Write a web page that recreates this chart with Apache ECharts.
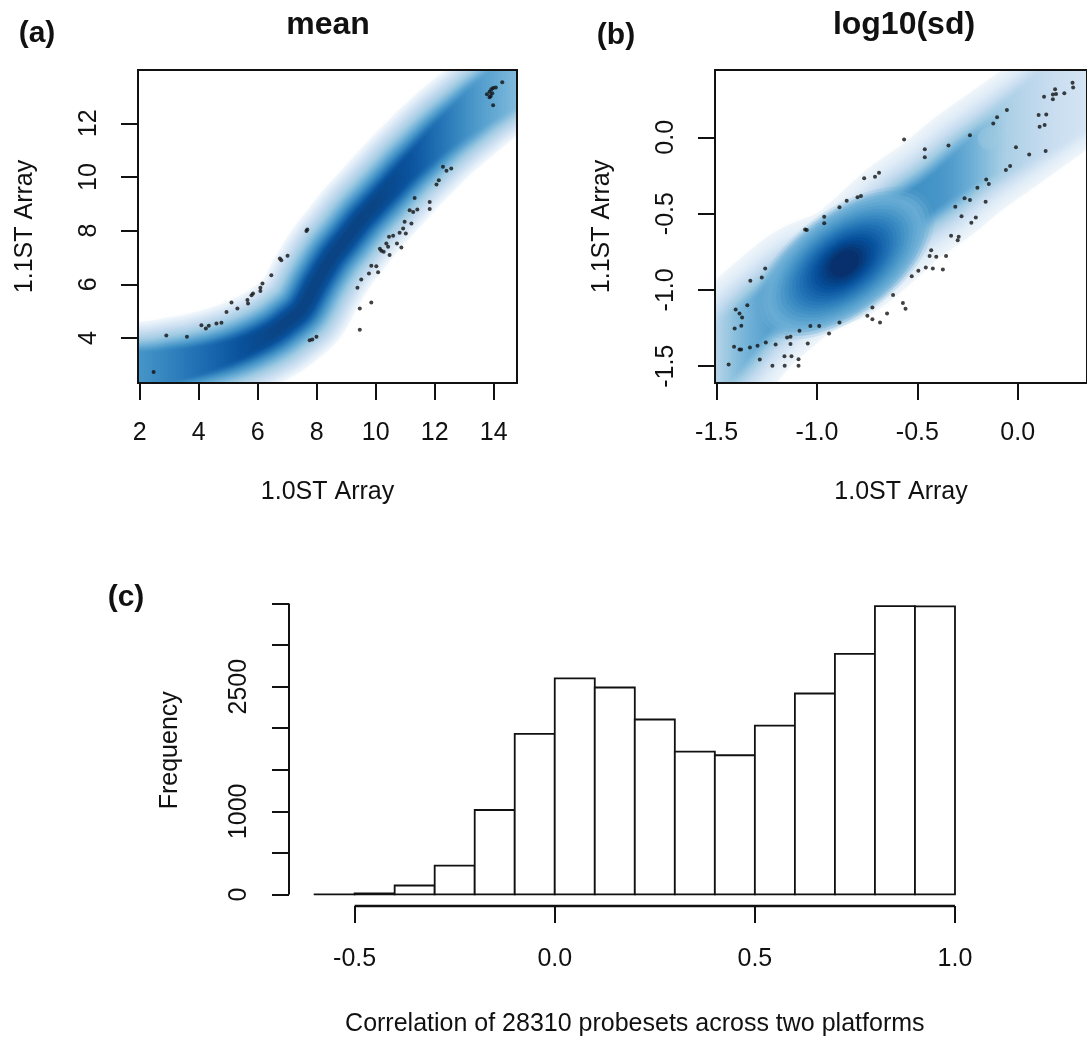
<!DOCTYPE html>
<html><head><meta charset="utf-8">
<script src="https://cdn.jsdelivr.net/npm/echarts@6/dist/echarts.min.js"></script>
<style>html,body{margin:0;padding:0;background:#fff}#c{width:1087px;height:1045px}</style>
</head><body><div id="c"></div>
<script>
// ================= DATA =================
// (a) mean: axis ticks
const meanTicksX = [2, 4, 6, 8, 10, 12, 14];
const meanTicksY = [4, 6, 8, 10, 12];
// (a) ridge of the smoothed density (centre line of the band)
const meanRidgeX = [1.5, 2.0, 2.5, 3.0, 4.0, 5.0, 5.8, 6.5, 7.0, 7.5, 8.0, 8.5, 9.0, 9.5, 10.0, 10.5, 11.0, 11.5, 12.0, 12.5, 13.0, 13.5, 14.0, 14.5, 15.3];
const meanRidgeY = [2.75, 2.8, 2.85, 2.95, 3.15, 3.45, 3.8, 4.2, 4.6, 5.1, 6.1, 7.0, 7.7, 8.4, 9.0, 9.6, 10.2, 10.75, 11.3, 11.8, 12.25, 12.7, 13.1, 13.5, 14.1];
// (a) outlying points drawn as dots
const meanOutliers = [
  [2.47,2.73],[2.90,4.09],[3.60,4.04],[4.09,4.47],[4.24,4.35],[4.34,4.45],[4.60,4.54],[4.77,4.57],
  [4.94,4.97],[5.11,5.32],[5.31,5.10],[5.65,5.41],[5.67,5.28],[5.79,5.59],[5.84,5.66],[6.09,5.87],
  [6.09,5.75],[6.16,6.03],[6.46,6.34],[6.75,6.96],[6.80,6.90],[7.01,7.06],[7.65,7.99],[7.68,8.04],
  [7.76,3.91],[7.85,3.94],[7.99,4.04],
  [9.46,4.31],[9.46,5.10],[9.85,5.32],[9.38,5.87],[9.51,6.18],[9.77,6.40],[9.85,6.69],[10.02,6.67],
  [10.08,6.45],[10.14,7.33],[10.19,7.25],[10.27,7.21],[10.42,7.40],[10.47,7.09],[10.36,7.52],[10.45,7.77],
  [10.59,7.81],[10.72,7.52],[10.81,7.92],[10.87,7.37],[10.93,8.08],[11.02,7.89],[10.98,8.33],[11.21,8.27],
  [11.15,8.76],[11.27,8.70],[11.32,9.22],[11.41,8.79],[11.83,9.07],[11.83,8.81],[12.06,9.72],[12.14,9.88],
  [12.28,10.38],[12.40,10.23],[12.56,10.32],
  [13.77,13.09],[13.86,13.18],[13.90,13.02],[13.92,13.27],[13.95,13.12],[13.98,13.32],[13.86,12.97],
  [13.98,12.68],[14.07,13.34],[14.29,13.53]
];

// (b) log10(sd)
const sdTicks = [-1.5, -1.0, -0.5, 0.0];
const sdRidgeX = [-1.65, -1.484, -1.337, -1.206, -1.059, -0.863, -0.716, -0.569, -0.405, -0.242, -0.078, 0.085, 0.248, 0.45];
const sdRidgeY = [-1.60, -1.460, -1.242, -1.089, -0.936, -0.826, -0.673, -0.498, -0.346, -0.171, -0.018, 0.135, 0.289, 0.47];
const sdPeak = [-0.863, -0.826];
const sdSpot = [-0.144, -0.007];
const sdOutliers = [
  [-1.440,-1.489],[-1.413,-1.373],[-1.386,-1.391],[-1.378,-1.391],[-1.410,-1.253],[-1.377,-1.235],
  [-1.405,-1.128],[-1.386,-1.154],[-1.373,-1.181],[-1.347,-1.100],[-1.332,-0.940],[-1.275,-0.918],
  [-1.258,-0.859],[-1.334,-1.377],[-1.296,-1.366],[-1.285,-1.456],[-1.255,-1.345],[-1.222,-1.497],
  [-1.206,-1.358],[-1.162,-1.434],[-1.161,-1.497],[-1.127,-1.434],[-1.092,-1.454],[-1.092,-1.497],
  [-1.149,-1.312],[-1.132,-1.307],[-1.132,-1.355],[-1.087,-1.268],[-1.046,-1.351],[-1.033,-1.237],
  [-0.989,-1.237],[-0.940,-1.285],[-0.888,-1.213],[-0.749,-1.170],[-0.724,-1.116],[-0.724,-1.192],
  [-0.686,-1.213],[-0.651,-1.154],[-0.621,-1.034],[-0.572,-1.085],[-0.559,-1.124],[-0.528,-0.910],
  [-0.495,-0.875],[-0.458,-0.853],[-0.423,-0.860],[-0.439,-0.777],[-0.431,-0.740],[-0.406,-0.783],
  [-0.373,-0.866],[-0.357,-0.777],[-0.332,-0.645],[-0.299,-0.674],[-0.294,-0.652],[-0.280,-0.517],
  [-0.231,-0.560],[-0.209,-0.525],[-0.311,-0.455],[-0.265,-0.400],[-0.238,-0.411],[-0.160,-0.422],
  [-0.201,-0.330],[-0.157,-0.276],[-0.144,-0.306],[-0.059,-0.214],[-0.038,-0.188],[-0.009,-0.066],
  [0.057,-0.112],[0.139,-0.090],[0.104,0.146],[0.109,0.069],[0.134,0.080],[0.142,0.150],[0.131,0.266],
  [0.175,0.281],[0.175,0.249],[0.191,0.284],[0.186,0.315],[0.232,0.288],[0.273,0.358],[0.276,0.327],
  [-1.059,-0.604],[-1.051,-0.608],[-0.964,-0.520],[-0.964,-0.564],[-0.888,-0.459],[-0.852,-0.415],
  [-0.798,-0.393],[-0.781,-0.385],[-0.765,-0.269],[-0.711,-0.258],[-0.691,-0.232],[-0.566,-0.014],
  [-0.463,-0.079],[-0.463,-0.131],[-0.345,-0.053],[-0.238,0.013],[-0.122,0.091],[-0.103,0.131],[-0.054,0.179]
];

// (c) histogram
const histBinEdges = [-0.6,-0.5,-0.4,-0.3,-0.2,-0.1,0.0,0.1,0.2,0.3,0.4,0.5,0.6,0.7,0.8,0.9,1.0];
const histCounts = [2, 12, 108, 346, 1016, 1931, 2599, 2490, 2105, 1719, 1675, 2032, 2418, 2895, 3470, 3466];
const histTicksX = [-0.5, 0.0, 0.5, 1.0];
const histTicksY = [0, 500, 1000, 1500, 2000, 2500, 3000, 3500];
const histLabelsY = [0, 1000, 2500];

// ================= STYLE / LAYOUT =================
const FONT = '"Liberation Sans", Arial, Helvetica, sans-serif';
const INK = '#111';
const FS = 25;

// density shading layers (outer -> inner): colour, stroke width (px), x-range of full strength, fade length
const meanAnchors = [
  {c:'#EEF5FB', w:96, a:0,   b:17,   f:1.5, o:1},
  {c:'#C6DBEF', w:76, a:0,   b:17,   f:1.5, o:1},
  {c:'#9ECAE1', w:60, a:0,   b:14.6, f:1.5, o:1},
  {c:'#6BAED6', w:48, a:0.8, b:13.4, f:1.5, o:1},
  {c:'#4292C6', w:38, a:2.8, b:12.3, f:1.4, o:1},
  {c:'#2171B5', w:29, a:4.5, b:11.4, f:1.3, o:1},
  {c:'#08519C', w:20, a:6.0, b:10.5, f:1.2, o:1},
  {c:'#0B4383', w:9,  a:7.0, b:9.5,  f:1.0, o:0.8}
];
const sdAnchors = [
  {c:'#EEF4FA', w:114, a:-1.8,  b:0.6,   f:0.10, o:1},
  {c:'#DCEAF6', w:92,  a:-1.48, b:0.45,  f:0.15, o:1},
  {c:'#C6DBEF', w:74,  a:-1.40, b:0.05,  f:0.20, o:1},
  {c:'#9ECAE1', w:56,  a:-1.30, b:-0.25, f:0.22, o:1},
  {c:'#6BAED6', w:42,  a:-1.20, b:-0.36, f:0.22, o:1},
  {c:'#4292C6', w:30,  a:-1.05, b:-0.50, f:0.20, o:1}
];
const blobAnchors = [
  {s:[220,112], c:'#6BAED6', o:0},
  {s:[180,92],  c:'#6BAED6', o:0.85},
  {s:[140,72],  c:'#4292C6', o:1},
  {s:[105,56],  c:'#2171B5', o:1},
  {s:[70,40],   c:'#08519C', o:1},
  {s:[32,22],   c:'#08306B', o:1}
];
const ELLIPSE = 'path://M-1,0A1,1,0,1,0,1,0A1,1,0,1,0,-1,0Z';

function rgbOf(h){ const n=parseInt(h.slice(1),16); return [(n>>16)&255,(n>>8)&255,n&255]; }
function lerp(a,b,t){ return a+(b-a)*t; }
function expand(anchors, steps, mix){
  const out = [];
  for (let i=0;i<anchors.length-1;i++)
    for (let s=0;s<steps;s++) out.push(mix(anchors[i], anchors[i+1], s/steps));
  out.push(mix(anchors[anchors.length-1], anchors[anchors.length-1], 0));
  return out;
}
function mixBand(A,B,t){
  const ca=rgbOf(A.c), cb=rgbOf(B.c);
  return {rgb:[0,1,2].map(k=>Math.round(lerp(ca[k],cb[k],t))), w:lerp(A.w,B.w,t), a:lerp(A.a,B.a,t),
          b:lerp(A.b,B.b,t), f:lerp(A.f,B.f,t), o:lerp(A.o,B.o,t)};
}
function mixBlob(A,B,t){
  const ca=rgbOf(A.c), cb=rgbOf(B.c);
  return {rgb:[0,1,2].map(k=>Math.round(lerp(ca[k],cb[k],t))), s:[lerp(A.s[0],B.s[0],t), lerp(A.s[1],B.s[1],t)], o:lerp(A.o,B.o,t)};
}
const meanLayers = expand(meanAnchors, 4, mixBand);
const sdLayers = expand(sdAnchors, 4, mixBand);
const blobLayers = expand(blobAnchors, 4, mixBlob);

const histMax = Math.max(...histCounts);
const histYMin = -0.04 * histMax, histYMax = 1.04 * histMax;
const histXSpan = histBinEdges[histBinEdges.length-1] - histBinEdges[0];
const histXMin = histBinEdges[0] - 0.04 * histXSpan, histXMax = histBinEdges[histBinEdges.length-1] + 0.04 * histXSpan;

const txt = {color: INK, fontFamily: FONT, fontSize: FS};

function valueAxis(o){
  return Object.assign({
    type:'value', scale:false,
    axisLine:{show:true, onZero:false, lineStyle:{color:INK, width:2}},
    axisTick:{show:true, length:17, lineStyle:{color:INK, width:2}, customValues:o.ticks},
    axisLabel:Object.assign({customValues:o.labels || o.ticks, margin:o.margin, rotate:o.rotate||0,
      formatter:o.fmt || (v=>String(v))}, txt),
    splitLine:{show:false},
    nameLocation:'middle', nameGap:o.nameGap, nameTextStyle:Object.assign({}, txt)
  }, o.extra);
}

// density band: a custom series, one data item per shading layer, each drawn as a wide
// smoothed stroke along the ridge, faded along x with a gradient placed by the axis scale
function bandSeries(axisIdx, ridgeX, ridgeY, layers){
  return {
    type:'custom', xAxisIndex:axisIdx, yAxisIndex:axisIdx, silent:true, clip:true, z:1,
    data: layers.map((L,i)=>[ridgeX[0], ridgeY[0], i]),
    encode:{x:0, y:1},
    renderItem:(params, api)=>{
      const L = layers[params.dataIndex];
      const pts = ridgeX.map((x,i)=>api.coord([x, ridgeY[i]]));
      const x0 = ridgeX[0], x1 = ridgeX[ridgeX.length-1];
      const px0 = pts[0][0], px1 = pts[pts.length-1][0];
      const stops = [];
      const N = 50;
      for (let k=0;k<=N;k++){
        const v = x0 + (x1-x0)*k/N;
        let al = 1;
        if (v < L.a) al = Math.max(0, 1 - (L.a - v)/L.f);
        else if (v > L.b) al = Math.max(0, 1 - (v - L.b)/L.f);
        stops.push({offset:k/N, color:'rgba('+L.rgb.join(',')+','+(al*L.o).toFixed(3)+')'});
      }
      return {type:'polyline', shape:{points:pts, smooth:0.35},
        style:{fill:null, stroke:{type:'linear', x:px0, y:0, x2:px1, y2:0, global:true, colorStops:stops},
          lineWidth:L.w, lineCap:'round', lineJoin:'round', shadowBlur:5, shadowColor:'rgba('+L.rgb.join(',')+',0.35)'}};
    }
  };
}

const series = [];
series.push(bandSeries(0, meanRidgeX, meanRidgeY, meanLayers));
series.push({type:'scatter', xAxisIndex:0, yAxisIndex:0, data:meanOutliers, symbol:'circle', symbolSize:4,
  itemStyle:{color:'#111'}, silent:true, z:5});

series.push(bandSeries(1, sdRidgeX, sdRidgeY, sdLayers));
series.push({type:'scatter', xAxisIndex:1, yAxisIndex:1, silent:true, z:2, clip:true,
  symbol:ELLIPSE, symbolRotate:37,
  data: blobLayers.map(B=>({value:sdPeak, symbolSize:B.s,
    itemStyle:{color:'rgba('+B.rgb.join(',')+','+B.o.toFixed(3)+')', shadowBlur:6, shadowColor:'rgba('+B.rgb.join(',')+','+(0.4*B.o).toFixed(3)+')'}}))
});
series.push({type:'scatter', xAxisIndex:1, yAxisIndex:1, silent:true, z:2, clip:true,
  data:[sdSpot], symbol:'circle', symbolSize:22, itemStyle:{color:'rgba(158,202,225,0.45)', shadowBlur:10, shadowColor:'rgba(158,202,225,0.6)'}});
series.push({type:'scatter', xAxisIndex:1, yAxisIndex:1, data:sdOutliers, symbol:'circle', symbolSize:4,
  itemStyle:{color:'#111'}, silent:true, z:5});

// histogram bars
series.push({type:'custom', xAxisIndex:2, yAxisIndex:2, silent:true, clip:false, z:3,
  data: histCounts.map((n,i)=>[histBinEdges[i], histBinEdges[i+1], n]),
  encode:{x:[0,1], y:2},
  renderItem:(params, api)=>{
    const p0 = api.coord([api.value(0), 0]);
    const p1 = api.coord([api.value(1), api.value(2)]);
    return {type:'rect', shape:{x:p0[0], y:p1[1], width:p1[0]-p0[0], height:p0[1]-p1[1]},
      style:{fill:'#fff', stroke:INK, lineWidth:1.8}};
  }
});
// R-style axis lines (span first..last tick)
series.push({type:'line', xAxisIndex:2, yAxisIndex:2, silent:true, clip:false, symbol:'none', z:4,
  data:[[histTicksX[0], histYMin],[histTicksX[histTicksX.length-1], histYMin]],
  lineStyle:{color:INK, width:2.5}});
series.push({type:'line', xAxisIndex:2, yAxisIndex:2, silent:true, clip:false, symbol:'none', z:4,
  data:[[histXMin, histTicksY[0]],[histXMin, histTicksY[histTicksY.length-1]]],
  lineStyle:{color:INK, width:2}});

const fmt1 = v => Number(v).toFixed(1);

const option = {
  animation:false,
  backgroundColor:'#fff',
  grid:[
    {left:138, top:70, width:379, height:313, show:true, borderColor:INK, borderWidth:2, backgroundColor:'transparent', z:10},
    {left:715, top:70, width:378, height:313, show:true, borderColor:INK, borderWidth:2, backgroundColor:'transparent', z:10},
    {left:289, top:594.5, width:691.6, height:311.5, show:false}
  ],
  xAxis:[
    valueAxis({ticks:meanTicksX, margin:38, nameGap:97, extra:{gridIndex:0, min:1.94, max:14.79, name:'1.0ST Array'}}),
    valueAxis({ticks:sdTicks, margin:38, nameGap:97, fmt:fmt1, extra:{gridIndex:1, min:-1.508, max:0.345, name:'1.0ST Array'}}),
    valueAxis({ticks:histTicksX, margin:41, nameGap:106, fmt:fmt1, extra:{gridIndex:2, min:histXMin, max:histXMax,
      name:'Correlation of 28310 probesets across two platforms'}})
  ],
  yAxis:[
    valueAxis({ticks:meanTicksY, margin:36, rotate:90, nameGap:100, extra:{gridIndex:0, min:2.32, max:13.99, name:'1.1ST Array'}}),
    valueAxis({ticks:sdTicks, margin:36, rotate:90, nameGap:100, fmt:fmt1, extra:{gridIndex:1, min:-1.61, max:0.441, name:'1.1ST Array'}}),
    valueAxis({ticks:histTicksY, labels:histLabelsY, margin:37, rotate:90, nameGap:106, extra:{gridIndex:2, min:histYMin, max:histYMax,
      name:'Frequency'}})
  ],
  graphic:[
    {type:'text', x:328, y:25, style:{text:'mean', font:'bold 32px '+FONT, fill:INK, textAlign:'center', textVerticalAlign:'middle'}},
    {type:'text', x:904, y:25, style:{text:'log10(sd)', font:'bold 32px '+FONT, fill:INK, textAlign:'center', textVerticalAlign:'middle'}},
    {type:'text', x:37, y:34, style:{text:'(a)', font:'bold 30px '+FONT, fill:INK, textAlign:'center', textVerticalAlign:'middle'}},
    {type:'text', x:616, y:36, style:{text:'(b)', font:'bold 30px '+FONT, fill:INK, textAlign:'center', textVerticalAlign:'middle'}},
    {type:'text', x:126, y:598, style:{text:'(c)', font:'bold 30px '+FONT, fill:INK, textAlign:'center', textVerticalAlign:'middle'}}
  ],
  series
};
// hide the library's own full-length axis lines in (c); R-style short lines are drawn above
option.xAxis[2].axisLine.show = false;
option.yAxis[2].axisLine.show = false;

const chart = echarts.init(document.getElementById('c'));
chart.setOption(option);
</script>
</body></html>
